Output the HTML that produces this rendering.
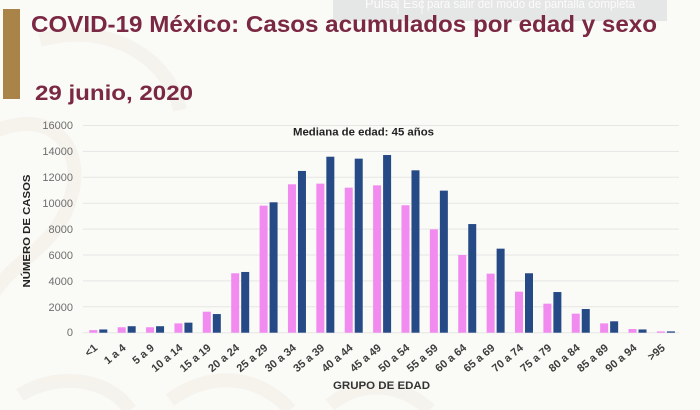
<!DOCTYPE html>
<html>
<head>
<meta charset="utf-8">
<style>
  html,body{margin:0;padding:0;background:#fafaf7;}
  body{width:700px;height:410px;overflow:hidden;}
  svg{display:block;}
</style>
</head>
<body>
<svg width="700" height="410" viewBox="0 0 700 410" xmlns="http://www.w3.org/2000/svg" font-family="'Liberation Sans', sans-serif">
  <rect x="0" y="0" width="700" height="410" fill="#fafaf7"/>
  <!-- faint background ornament -->
  <g fill="none" stroke="#f2efe6" stroke-width="14" opacity="0.6">
    <path d="M-20 140 C 40 100, 90 140, 70 200 C 55 250, 10 260, -10 300"/>
    <path d="M40 40 C 110 20, 170 60, 180 110"/>
    <path d="M20 395 C 60 370, 110 380, 130 410"/>
    <path d="M170 400 C 210 370, 260 375, 290 410"/>
    <path d="M330 405 C 360 380, 400 382, 430 410"/>
  </g>

  <!-- fullscreen overlay box -->
  <rect x="333" y="0" width="334" height="21" fill="#e5e6e6"/>
  <g fill="#fbfbfb" font-size="13">
    <text x="365" y="8">Pulsa</text>
    <text x="403" y="8">Esc</text>
    <text x="427" y="8" textLength="208" lengthAdjust="spacingAndGlyphs">para salir del modo de pantalla completa</text>
  </g>
  <rect x="397.5" y="0" width="1" height="14" fill="#f8f8f8"/>
  <rect x="421.5" y="0" width="1" height="14" fill="#f8f8f8"/>

  <!-- left gold bar -->
  <rect x="3" y="9" width="17" height="90" fill="#a98347"/>

  <!-- titles -->
  <text x="31" y="32" font-size="23" font-weight="bold" fill="#7a2843" textLength="626" lengthAdjust="spacingAndGlyphs">COVID-19 México: Casos acumulados por edad y sexo</text>
  <text x="35" y="100" font-size="21" font-weight="bold" fill="#7a2843" textLength="158" lengthAdjust="spacingAndGlyphs">29 junio, 2020</text>

  <!-- gridlines -->
  <g stroke="#e6e6e6" stroke-width="1">
    <line x1="83" y1="125.5" x2="679" y2="125.5"/>
    <line x1="83" y1="151.4" x2="679" y2="151.4"/>
    <line x1="83" y1="177.3" x2="679" y2="177.3"/>
    <line x1="83" y1="203.2" x2="679" y2="203.2"/>
    <line x1="83" y1="229.1" x2="679" y2="229.1"/>
    <line x1="83" y1="255.0" x2="679" y2="255.0"/>
    <line x1="83" y1="280.9" x2="679" y2="280.9"/>
    <line x1="83" y1="306.8" x2="679" y2="306.8"/>
    <line x1="83" y1="332.7" x2="679" y2="332.7"/>
  </g>

  <!-- y tick labels -->
  <g font-size="11" fill="#6e6e6e" text-anchor="end">
    <text x="73" y="129">16000</text>
    <text x="73" y="155">14000</text>
    <text x="73" y="181">12000</text>
    <text x="73" y="207">10000</text>
    <text x="73" y="233">8000</text>
    <text x="73" y="259">6000</text>
    <text x="73" y="285">4000</text>
    <text x="73" y="311">2000</text>
    <text x="73" y="336">0</text>
  </g>

  <!-- y axis title -->
  <text transform="translate(30,231) rotate(-90)" text-anchor="middle" font-size="10.5" font-weight="bold" fill="#222" textLength="113" lengthAdjust="spacingAndGlyphs">NÚMERO DE CASOS</text>

  <!-- median label -->
  <text x="293" y="135.5" font-size="11" font-weight="bold" fill="#222" textLength="141" lengthAdjust="spacingAndGlyphs">Mediana de edad: 45 años</text>

  <!-- bars -->
  <g id="bars"></g>

  <!-- x labels -->
  <g id="xlabels" font-size="11" font-weight="bold" fill="#3c3c3c" text-anchor="end"></g>

  <!-- x axis title -->
  <text x="333" y="389" font-size="11" font-weight="bold" fill="#333" textLength="97" lengthAdjust="spacingAndGlyphs">GRUPO DE EDAD</text>
</svg>
<script>
(function(){
  var NS="http://www.w3.org/2000/svg";
  var pink=[200,420,420,720,1620,4590,9810,11460,11510,11200,11380,9840,7980,6000,4560,3170,2240,1470,720,285,100];
  var navy=[250,500,500,776,1440,4690,10070,12490,13590,13440,13720,12540,10970,8390,6490,4590,3140,1830,880,250,100];
  var labels=["<1","1 a 4","5 a 9","10 a 14","15 a 19","20 a 24","25 a 29","30 a 34","35 a 39","40 a 44","45 a 49","50 a 54","55 a 59","60 a 64","65 a 69","70 a 74","75 a 79","80 a 84","85 a 89","90 a 94",">95"];
  var base=332.7, k=0.01295, step=28.38, x0=83;
  var g=document.getElementById("bars"), gl=document.getElementById("xlabels");
  for(var i=0;i<21;i++){
    var px=x0+step*i+6.3;
    var hp=pink[i]*k, hn=navy[i]*k;
    var r1=document.createElementNS(NS,"rect");
    r1.setAttribute("x",px.toFixed(2));r1.setAttribute("y",(base-hp).toFixed(2));
    r1.setAttribute("width","8");r1.setAttribute("height",hp.toFixed(2));r1.setAttribute("fill","#f28bef");
    g.appendChild(r1);
    var r2=document.createElementNS(NS,"rect");
    r2.setAttribute("x",(px+10).toFixed(2));r2.setAttribute("y",(base-hn).toFixed(2));
    r2.setAttribute("width","8");r2.setAttribute("height",hn.toFixed(2));r2.setAttribute("fill","#264a86");
    g.appendChild(r2);
    var cx=x0+step*(i+0.5)+1;
    var t=document.createElementNS(NS,"text");
    t.setAttribute("transform","translate("+cx.toFixed(2)+",349) rotate(-40)");
    t.textContent=labels[i];
    gl.appendChild(t);
  }
})();
</script>
</body>
</html>
